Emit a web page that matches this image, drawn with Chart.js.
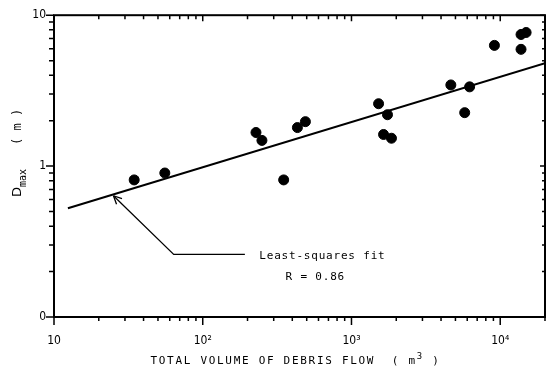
<!DOCTYPE html>
<html>
<head>
<meta charset="utf-8">
<script src="https://cdn.jsdelivr.net/npm/chart.js@4/dist/chart.umd.min.js"></script>
<style>
  html, body { margin: 0; padding: 0; background: #fff; }
  #wrap { width: 551px; height: 373px; }
</style>
</head>
<body>
<div id="wrap"><canvas id="chart" width="551" height="373"></canvas></div>
<script>
// data
const volume = [34.6, 55.6, 228, 250, 350, 433, 490, 1521, 1746, 1643, 1857, 4656, 6226, 5770, 9140, 13800, 13800, 14930];
const dmax   = [0.81, 0.90, 1.67, 1.48, 0.81, 1.80, 1.97, 2.59, 2.19, 1.62, 1.53, 3.45, 3.35, 2.26, 6.31, 5.94, 7.45, 7.68];

// least-squares line ends
const fitX = [12.4, 20000];
const fitY = [0.526, 4.81];

const xTicks = [10, 100, 1000, 10000];
const xTickLabels = ['10', '10²', '10³', '10⁴'];
const yTicks = [0.1, 1, 10];
const yTickLabels = ['0', '1', '10'];

// callout: arrow tip, corner, end of leader, text anchors (data space)
const arrowPts = [[25.1, 0.636], [63.8, 0.26], [192, 0.26]];
const fitLabel = ['Least-squares fit', 'R = 0.86'];
const fitLabelPos = [[240, 0.255], [571, 0.184]];

const monoFont = '11px "DejaVu Sans Mono", monospace';

const framePlugin = {
    id: 'frame',
    afterDraw(chart) {
        const { ctx, chartArea: a, scales: { x, y } } = chart;
        ctx.save();
        ctx.strokeStyle = '#000';
        ctx.fillStyle = '#000';

        // frame
        ctx.lineWidth = 2;
        ctx.strokeRect(a.left, a.top, a.right - a.left, a.bottom - a.top);

        // ticks, majors + minors
        ctx.lineWidth = 1.5;
        ctx.beginPath();
        for (let d = 1; d <= 4; d++) {
            for (let m = 1; m <= 9; m++) {
                const v = m * Math.pow(10, d);
                if (v > x.max) break;
                const px = x.getPixelForValue(v);
                const major = m === 1;
                ctx.moveTo(px, a.bottom); ctx.lineTo(px, a.bottom + (major ? 8 : 4));
                ctx.moveTo(px, a.top); ctx.lineTo(px, a.top + (major ? 6 : 4));
            }
        }
        for (let d = -1; d <= 1; d++) {
            for (let m = 1; m <= 9; m++) {
                const v = m * Math.pow(10, d);
                if (v > y.max + 1e-9) break;
                const py = y.getPixelForValue(v);
                const major = m === 1;
                ctx.moveTo(a.left, py); ctx.lineTo(a.left - (major ? 8 : 5), py);
                ctx.moveTo(a.right, py); ctx.lineTo(a.right - (major ? 5 : 3), py);
            }
        }
        ctx.stroke();

        // callout leader and arrow
        const pts = arrowPts.map(p => [x.getPixelForValue(p[0]), y.getPixelForValue(p[1])]);
        ctx.lineWidth = 1.3;
        ctx.beginPath();
        ctx.moveTo(pts[0][0], pts[0][1]);
        pts.slice(1).forEach(p => ctx.lineTo(p[0], p[1]));
        ctx.stroke();
        const ang = Math.atan2(pts[1][1] - pts[0][1], pts[1][0] - pts[0][0]);
        ctx.beginPath();
        [-0.45, 0.45].forEach(da => {
            ctx.moveTo(pts[0][0], pts[0][1]);
            ctx.lineTo(pts[0][0] + 9 * Math.cos(ang + da), pts[0][1] + 9 * Math.sin(ang + da));
        });
        ctx.stroke();

        // callout text
        ctx.font = monoFont;
        ctx.letterSpacing = '0.8px';
        ctx.textBaseline = 'middle';
        ctx.textAlign = 'left';
        ctx.fillText(fitLabel[0], x.getPixelForValue(fitLabelPos[0][0]), y.getPixelForValue(fitLabelPos[0][1]));
        ctx.textAlign = 'center';
        ctx.fillText(fitLabel[1], x.getPixelForValue(fitLabelPos[1][0]), y.getPixelForValue(fitLabelPos[1][1]));

        // x title with superscript
        ctx.letterSpacing = '1.7px';
        ctx.textAlign = 'left';
        ctx.textBaseline = 'alphabetic';
        const t1 = 'TOTAL VOLUME OF DEBRIS FLOW  ( m';
        const t2 = ' )';
        const w1 = ctx.measureText(t1).width;
        ctx.font = '9px "DejaVu Sans Mono", monospace';
        const wSup = ctx.measureText('3').width;
        ctx.font = monoFont;
        const w2 = ctx.measureText(t2).width;
        const tx = (a.left + a.right) / 2 - (w1 + wSup + w2) / 2 - 4;
        const ty = 364;
        ctx.fillText(t1, tx, ty);
        ctx.font = '9px "DejaVu Sans Mono", monospace';
        ctx.fillText('3', tx + w1, ty - 5);
        ctx.font = monoFont;
        ctx.fillText(t2, tx + w1 + wSup, ty);

        // y title, rotated, D with subscript max
        ctx.letterSpacing = '0px';
        ctx.translate(21, 197);
        ctx.rotate(-Math.PI / 2);
        ctx.font = '13px "DejaVu Sans", sans-serif';
        ctx.fillText('D', 0, 0);
        const wd = ctx.measureText('D').width;
        ctx.font = '10px "DejaVu Sans Mono", monospace';
        ctx.fillText('max', wd, 5);
        ctx.font = '12px "DejaVu Sans Mono", monospace';
        ctx.fillText('( m )', 52, 0);
        ctx.restore();
    }
};

new Chart(document.getElementById('chart'), {
    data: {
        datasets: [
            {
                type: 'scatter',
                data: volume.map((v, i) => ({ x: v, y: dmax[i] })),
                backgroundColor: '#000',
                borderColor: '#000',
                pointRadius: 5,
                pointHoverRadius: 5
            },
            {
                type: 'line',
                data: fitX.map((v, i) => ({ x: v, y: fitY[i] })),
                borderColor: '#000',
                borderWidth: 2,
                pointRadius: 0,
                fill: false
            }
        ]
    },
    options: {
        responsive: false,
        animation: false,
        layout: { padding: { top: 12, right: 3, left: 0, bottom: 0 } },
        plugins: { legend: { display: false }, tooltip: { enabled: false } },
        scales: {
            x: {
                type: 'logarithmic',
                min: 10,
                max: 20000,
                afterBuildTicks: s => { s.ticks = xTicks.map(v => ({ value: v })); },
                afterFit: s => { s.height = 56; },
                grid: { display: false, drawTicks: false },
                border: { display: false },
                ticks: {
                    color: '#000',
                    font: { family: '"DejaVu Sans Condensed", "DejaVu Sans", sans-serif', size: 12 },
                    padding: 17,
                    maxRotation: 0,
                    callback: (v) => xTickLabels[xTicks.indexOf(v)]
                }
            },
            y: {
                type: 'logarithmic',
                min: 0.1,
                max: 10,
                afterBuildTicks: s => { s.ticks = yTicks.map(v => ({ value: v })); },
                afterFit: s => { s.width = 54; },
                grid: { display: false, drawTicks: false },
                border: { display: false },
                ticks: {
                    color: '#000',
                    font: { family: '"DejaVu Sans Condensed", "DejaVu Sans", sans-serif', size: 12 },
                    padding: 8,
                    callback: (v) => yTickLabels[yTicks.indexOf(v)]
                }
            }
        }
    },
    plugins: [framePlugin]
});
</script>
</body>
</html>
